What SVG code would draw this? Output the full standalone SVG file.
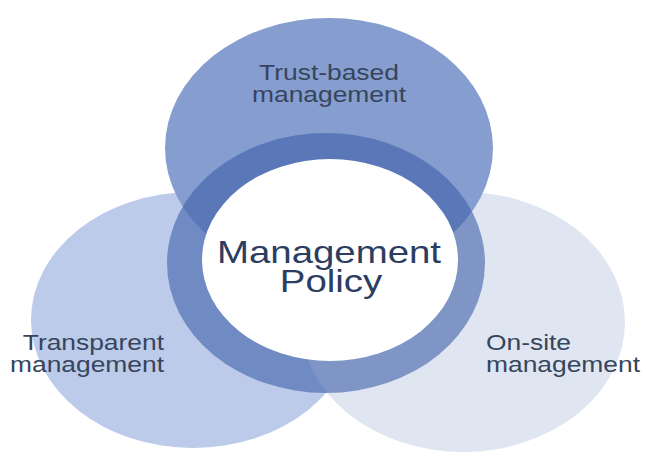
<svg xmlns="http://www.w3.org/2000/svg" width="646" height="457" viewBox="0 0 646 457">
  <style>
    .lbl { font-family: "Liberation Sans", Arial, sans-serif; font-size: 22px; fill: #36455c; }
    .ctr { font-family: "Liberation Sans", Arial, sans-serif; font-size: 32px; fill: #2b3d60; }
  </style>
  <rect x="0" y="0" width="646" height="457" fill="#ffffff"/>
  <g id="transparent">
    <ellipse cx="193" cy="320" rx="162" ry="128" fill="#bccbea"/>
  </g>
  <g id="onsite">
    <ellipse cx="463" cy="322" rx="162" ry="130" fill="#dfe6f2"/>
  </g>
  <g id="trust">
    <ellipse cx="329" cy="148" rx="164" ry="130" fill="#869dcf"/>
  </g>
  <g id="policy">
    <ellipse cx="326" cy="263" rx="159" ry="130" fill="#3d5fa8" fill-opacity="0.6"/>
    <ellipse cx="330" cy="260" rx="128" ry="101" fill="#ffffff"/>
  </g>
  <g id="connectors"></g>
  <g id="labels">
    <g transform="translate(329,80) scale(1.2,1)"><text class="lbl" text-anchor="middle">Trust-based</text></g>
    <g transform="translate(329,102) scale(1.2,1)"><text class="lbl" text-anchor="middle">management</text></g>
    <g transform="translate(329,263) scale(1.2,1)"><text class="ctr" text-anchor="middle">Management</text></g>
    <g transform="translate(331,292) scale(1.2,1)"><text class="ctr" text-anchor="middle">Policy</text></g>
    <g transform="translate(164,350) scale(1.2,1)"><text class="lbl" text-anchor="end">Transparent</text></g>
    <g transform="translate(164,372) scale(1.2,1)"><text class="lbl" text-anchor="end">management</text></g>
    <g transform="translate(486,350) scale(1.2,1)"><text class="lbl" text-anchor="start">On-site</text></g>
    <g transform="translate(486,372) scale(1.2,1)"><text class="lbl" text-anchor="start">management</text></g>
  </g>
</svg>
